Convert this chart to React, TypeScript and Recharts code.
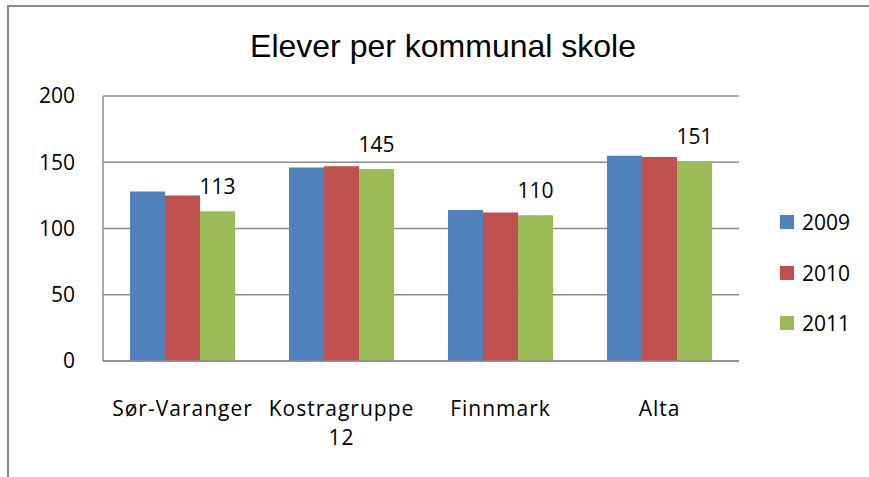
import { Bar, BarChart, CartesianGrid, LabelList, Text, XAxis, YAxis } from "recharts"

const categories = ["Sør-Varanger", "Kostragruppe 12", "Finnmark", "Alta"]
const years = ["2009", "2010", "2011"]
const values2009 = [128, 146, 114, 155]
const values2010 = [125, 147, 112, 154]
const values2011 = [113, 145, 110, 151]
const yTicks = [0, 50, 100, 150, 200]

const colors = ["#4F81BD", "#C0504D", "#9BBB59"]

const data = categories.map((name, i) => ({
  name,
  "2009": values2009[i],
  "2010": values2010[i],
  "2011": values2011[i],
}))

const labelFont = "'Open Sans', Lato, sans-serif"

// category labels wrap on word boundaries like the spreadsheet does
function CategoryTick(props: any) {
  const { x, y, payload } = props
  return (
    <Text
      x={x}
      y={y}
      width={120}
      textAnchor="middle"
      verticalAnchor="start"
      fill="#000"
      style={{ fontFamily: labelFont, fontSize: 21, letterSpacing: 1 }}
      lineHeight={29}
    >
      {payload.value}
    </Text>
  )
}

export default function App() {
  return (
    <div style={{ position: "fixed", left: 0, top: 0, width: 869, height: 477, background: "#fff" }}>
      <div
        style={{
          position: "absolute",
          left: 7,
          top: 5,
          right: 0,
          bottom: 0,
          borderTop: "2px solid #898989",
          borderLeft: "2px solid #898989",
        }}
      />
      <div
        style={{
          position: "absolute",
          left: 0,
          width: 886,
          top: 28,
          textAlign: "center",
          fontFamily: "'Liberation Sans', Arial, sans-serif",
          fontSize: 32,
          color: "#000",
        }}
      >
        Elever per kommunal skole
      </div>
      <div style={{ position: "absolute", left: 0, top: 0 }}>
        <BarChart
          width={869}
          height={477}
          data={data}
          margin={{ top: 96, right: 130, bottom: 30, left: 0 }}
          barCategoryGap="17%"
          barGap={0}
        >
          <CartesianGrid vertical={false} stroke="#8c8c8c" strokeWidth={1.5} />
          <XAxis
            dataKey="name"
            height={86}
            stroke="#8c8c8c"
            strokeWidth={1.5}
            tickLine={false}
            tickSize={0}
            tickMargin={40}
            interval={0}
            tick={<CategoryTick />}
          />
          <YAxis
            domain={[0, 200]}
            ticks={yTicks}
            width={103}
            stroke="#8c8c8c"
            strokeWidth={1.5}
            tickLine={false}
            tickSize={0}
            tickMargin={28}
            tick={{ fill: "#000", fontFamily: labelFont, fontSize: 21 }}
          />
          {years.map((year, i) => (
            <Bar key={year} dataKey={year} fill={colors[i]} isAnimationActive={false}>
              {i === 2 && (
                <LabelList
                  dataKey={year}
                  position="top"
                  offset={17}
                  style={{ fill: "#000", fontFamily: labelFont, fontSize: 21 }}
                />
              )}
            </Bar>
          ))}
        </BarChart>
      </div>
      <div style={{ position: "absolute", left: 780, top: 207 }}>
        {years.map((year, i) => (
          <div
            key={year}
            style={{ display: "flex", alignItems: "center", height: 30, marginBottom: 20.5 }}
          >
            <div style={{ width: 14, height: 14, background: colors[i], marginRight: 8 }} />
            <span style={{ fontFamily: labelFont, fontSize: 21, color: "#000" }}>{year}</span>
          </div>
        ))}
      </div>
    </div>
  )
}
